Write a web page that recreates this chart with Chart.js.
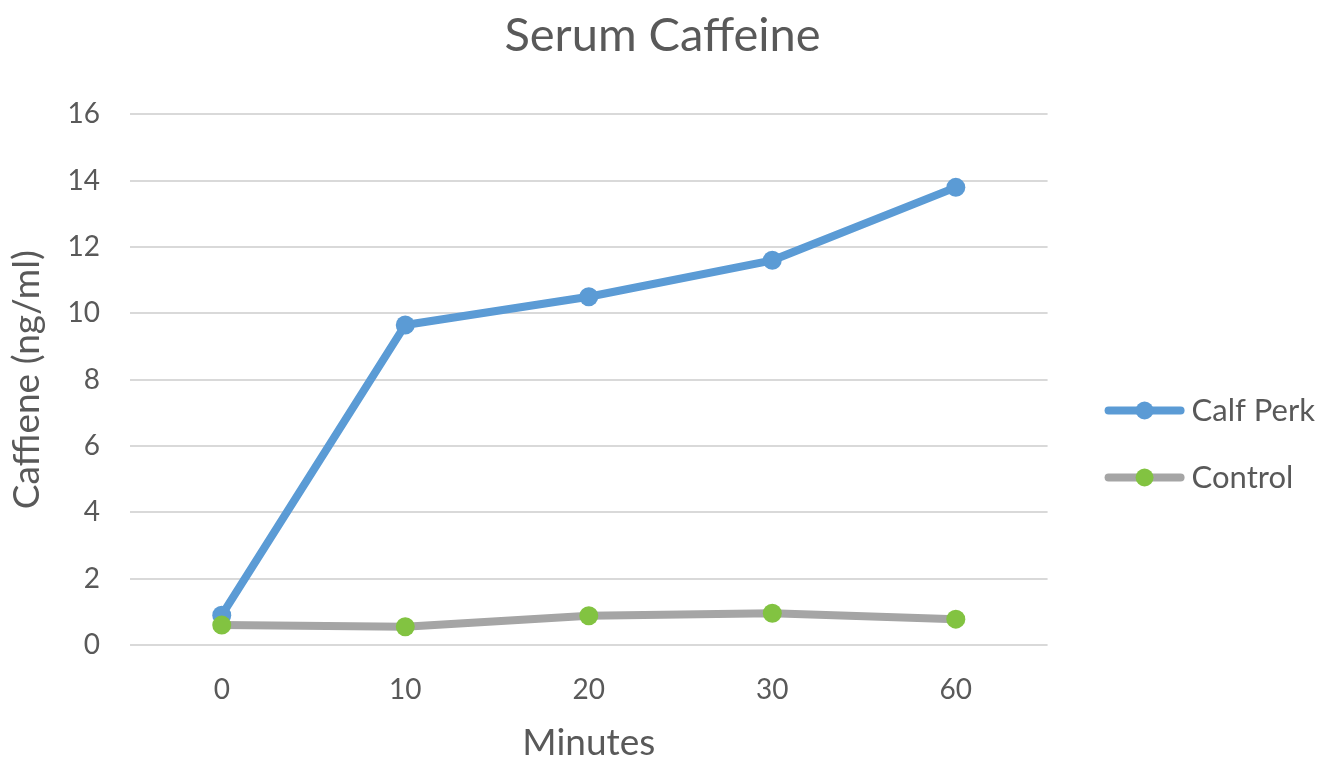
<!DOCTYPE html>
<html>
<head>
<meta charset="utf-8">
<script src="https://cdn.jsdelivr.net/npm/chart.js@4/dist/chart.umd.min.js"></script>
<style>
html,body{margin:0;padding:0;background:#fff;}
#wrap{width:1320px;height:762px;}
</style>
</head>
<body>
<div id="wrap"><canvas id="c" width="1320" height="762"></canvas></div>
<script>
const categories = ['0', '10', '20', '30', '60'];
const calfPerk = [0.9, 9.65, 10.5, 11.6, 13.8];
const control = [0.6, 0.55, 0.88, 0.96, 0.78];
const seriesNames = ['Calf Perk', 'Control'];
const yTicks = [0, 2, 4, 6, 8, 10, 12, 14, 16];

const FONT = 'Lato';
const TXT = '#595959';
const BLUE = '#5B9BD5';
const GRAY = '#A5A5A5';
const GREEN = '#82C341';

const LEG_OFFSET = 21;
const LEG_LINE = 80;

const legendMarker = {
  id: 'legendMarker',
  afterDraw(chart) {
    const lg = chart.legend;
    if (!lg || !lg.legendHitBoxes) return;
    const ctx = chart.ctx;
    lg.legendHitBoxes.forEach((hb, i) => {
      const item = lg.legendItems[i];
      const ds = chart.data.datasets[item.datasetIndex];
      const x0 = hb.left + LEG_OFFSET;
      const cy = hb.top + hb.height / 2;
      ctx.save();
      ctx.strokeStyle = ds.borderColor;
      ctx.lineWidth = 8;
      ctx.lineCap = 'round';
      ctx.beginPath();
      ctx.moveTo(x0 + 4, cy);
      ctx.lineTo(x0 + LEG_LINE - 4, cy);
      ctx.stroke();
      ctx.fillStyle = ds.pointBackgroundColor;
      ctx.beginPath();
      ctx.arc(x0 + LEG_LINE / 2, cy, 9, 0, Math.PI * 2);
      ctx.fill();
      ctx.restore();
    });
  }
};

new Chart(document.getElementById('c'), {
  type: 'line',
  data: {
    labels: categories,
    datasets: [
      {
        label: seriesNames[0],
        data: calfPerk,
        borderColor: BLUE,
        backgroundColor: BLUE,
        pointBackgroundColor: BLUE,
        pointBorderWidth: 0,
        pointRadius: 9.5,
        borderWidth: 8,
        tension: 0,
        order: 1
      },
      {
        label: seriesNames[1],
        data: control,
        borderColor: GRAY,
        backgroundColor: GRAY,
        pointBackgroundColor: GREEN,
        pointBorderWidth: 0,
        pointRadius: 9.5,
        borderWidth: 8,
        tension: 0,
        order: 0
      }
    ]
  },
  options: {
    responsive: false,
    animation: false,
    layout: { padding: { left: 0, right: -5, top: 8, bottom: 0 } },
    plugins: {
      tooltip: { enabled: false },
      title: {
        display: true,
        text: 'Serum Caffeine',
        color: TXT,
        font: { family: FONT, size: 47, weight: 'normal' },
        padding: { top: 0, bottom: 50 }
      },
      legend: {
        position: 'right',
        align: 'center',
        sort: (a, b) => a.datasetIndex - b.datasetIndex,
        title: { display: true, text: ' ', padding: { top: 0, bottom: 94 }, font: { size: 20 } },
        labels: {
          color: TXT,
          font: { family: FONT, size: 31 },
          boxWidth: 92.5,
          boxHeight: 10,
          padding: 36,
          generateLabels(chart) {
            return chart.data.datasets.map((ds, i) => ({
              text: ds.label,
              datasetIndex: i,
              fillStyle: 'rgba(0,0,0,0)',
              strokeStyle: 'rgba(0,0,0,0)',
              lineWidth: 0,
              fontColor: TXT,
              hidden: false
            }));
          }
        }
      }
    },
    scales: {
      x: {
        offset: true,
        afterFit(scale) { scale.height = 117; },
        grid: { display: false },
        border: { display: false },
        ticks: { color: TXT, font: { family: FONT, size: 28 }, padding: 20 },
        title: { display: true, text: 'Minutes', color: TXT, font: { family: FONT, size: 37, lineHeight: 1 }, padding: { top: 18, bottom: 0 } }
      },
      y: {
        min: 0,
        max: 16,
        afterFit(scale) { scale.width = 130; },
        afterBuildTicks(scale) { scale.ticks = yTicks.map(v => ({ value: v })); },
        grid: { color: '#D9D9D9', lineWidth: 2, drawTicks: false },
        border: { display: false },
        ticks: { color: TXT, font: { family: FONT, size: 28 }, padding: 30 },
        title: { display: true, text: 'Caffiene (ng/ml)', color: TXT, font: { family: FONT, size: 37, lineHeight: 1 }, padding: { top: 9, bottom: 20 } }
      }
    }
  },
  plugins: [legendMarker]
});
</script>
</body>
</html>
